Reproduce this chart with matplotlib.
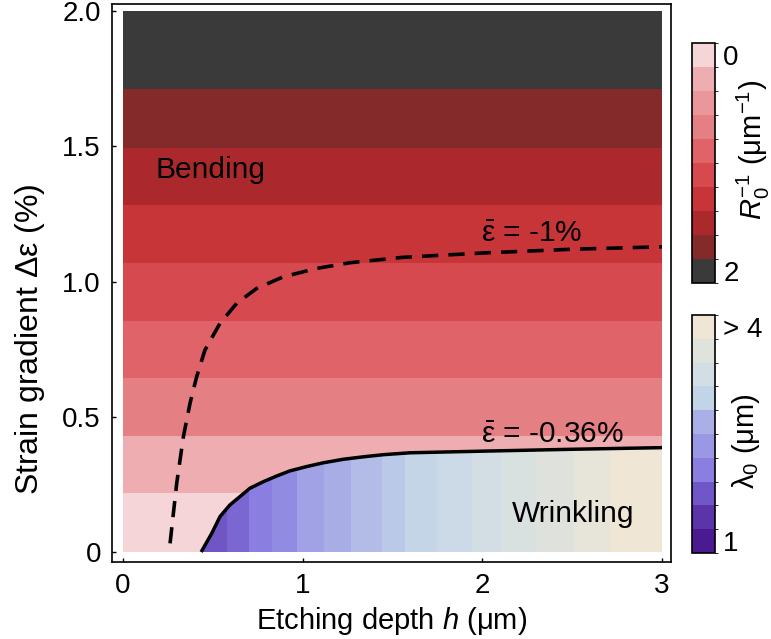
import matplotlib
matplotlib.use("Agg")
import matplotlib.pyplot as plt
import numpy as np
from matplotlib.colors import ListedColormap, BoundaryNorm, LinearSegmentedColormap, Normalize
from matplotlib.cm import ScalarMappable
from matplotlib.patches import Polygon

plt.rcParams["font.family"] = ["Liberation Sans", "DejaVu Sans"]
plt.rcParams["mathtext.fontset"] = "custom"
plt.rcParams["mathtext.rm"] = "Liberation Sans"
plt.rcParams["mathtext.it"] = "Liberation Sans:italic"

# bending region: horizontal bands of curvature R0^-1 (um^-1)
strain_edges = [0.0, 0.218, 0.429, 0.643, 0.854, 1.069, 1.283, 1.494, 1.712, 2.0]
curv_bands = [0.1, 0.3, 0.7, 0.9, 1.1, 1.3, 1.5, 1.7, 1.9]
curv_levels = [0.0, 0.2, 0.4, 0.6, 0.8, 1.0, 1.2, 1.4, 1.6, 1.8, 2.0]
curv_colors = ["#f5d5d8", "#eeaeb1", "#e9979b", "#e48084", "#df6368", "#d64a4f",
               "#c83538", "#ab292c", "#842a2b", "#3a3a3a"]

# wrinkling region: vertical bands of wavelength lambda0 (um)
h_edges = [0.435, 0.58, 0.70, 0.83, 0.97, 1.12, 1.27, 1.44, 1.57, 1.75, 1.94,
           2.11, 2.30, 2.51, 2.71, 3.0]
lam_bands = [1.66, 1.81, 2.0, 2.17, 2.47, 2.62, 2.77, 2.89, 3.04, 3.19, 3.34,
             3.49, 3.64, 3.82, 4.0]
lam_levels = [1.0, 1.3, 1.6, 1.9, 2.2, 2.5, 2.8, 3.1, 3.4, 3.7, 4.0]
lam_colors = ["#4a1a90", "#5c34aa", "#7056c6", "#8a7ee0", "#9a98e4", "#aab0e6",
              "#c2d4e8", "#d2dee4", "#e0e2dc", "#efe6d6"]

# boundary eps_bar = -0.36 % (solid)
wr_h = [0.435, 0.494, 0.540, 0.595, 0.651, 0.707, 0.781, 0.855, 0.929, 1.022,
        1.115, 1.226, 1.337, 1.449, 1.597, 2.0, 2.5, 3.0]
wr_eps = [0.0, 0.069, 0.131, 0.174, 0.205, 0.236, 0.260, 0.281, 0.300, 0.316,
          0.330, 0.343, 0.352, 0.360, 0.367, 0.373, 0.380, 0.386]

# boundary eps_bar = -1 % (dashed)
bd_h = [0.262, 0.299, 0.336, 0.373, 0.410, 0.456, 0.540, 0.633, 0.744, 0.892,
        1.078, 1.263, 1.558, 2.0, 2.5, 3.0]
bd_eps = [0.032, 0.254, 0.426, 0.550, 0.648, 0.747, 0.846, 0.920, 0.975, 1.018,
          1.049, 1.070, 1.090, 1.106, 1.120, 1.129]

FS = 20      # tick labels
FS_LAB = 21  # axis labels
FS_TXT = 21.5  # annotations

fig = plt.figure(figsize=(7.71, 6.39), dpi=100)
ax = fig.add_axes([0.1453, 0.1205, 0.7250, 0.8732])

cmap_r = ListedColormap(curv_colors)
norm_r = BoundaryNorm(curv_levels, cmap_r.N)
ax.pcolormesh([0, 3], strain_edges, np.array(curv_bands)[:, None], cmap=cmap_r, norm=norm_r)

cmap_l = ListedColormap(lam_colors)
norm_l = BoundaryNorm(lam_levels, cmap_l.N)
cmap_smooth = LinearSegmentedColormap.from_list("lam", lam_colors)
mesh = ax.pcolormesh(h_edges, [0, max(wr_eps) + 0.05], np.array(lam_bands)[None, :],
                     cmap=cmap_smooth, norm=Normalize(1.0, 4.0))
clip = Polygon(list(zip(wr_h, wr_eps)) + [(3.0, 0.0), (wr_h[0], 0.0)], closed=True,
               transform=ax.transData, facecolor="none", edgecolor="none")
ax.add_patch(clip)
mesh.set_clip_path(clip)

ax.plot(wr_h, wr_eps, color="black", lw=2.5, solid_capstyle="butt")
ax.plot(bd_h, bd_eps, color="black", lw=2.6, ls=(0, (4.5, 2.8)))

ax.text(0.18, 1.383, "Bending", fontsize=FS_TXT, va="baseline")
ax.text(2.165, 0.111, "Wrinkling", fontsize=FS_TXT, va="baseline")
ax.text(1.99, 1.146, r"$\bar{\mathrm{\varepsilon}}$ = -1%", fontsize=FS_TXT, va="baseline")
ax.text(1.99, 0.403, r"$\bar{\mathrm{\varepsilon}}$ = -0.36%", fontsize=FS_TXT, va="baseline")

ax.set_xlim(-0.061, 3.05)
ax.set_ylim(-0.037, 2.027)
ax.set_xticks([0, 1, 2, 3])
ax.set_yticks([0, 0.5, 1.0, 1.5, 2.0])
ax.set_yticklabels(["0", "0.5", "1.0", "1.5", "2.0"])
ax.tick_params(direction="in", length=3, width=1, labelsize=FS, pad=8)
for s in ax.spines.values():
    s.set_linewidth(1.2)
ax.set_xlabel(r"Etching depth $h$ (μm)", fontsize=FS_LAB, labelpad=4)
ax.set_ylabel(r"Strain gradient $\mathrm{\Delta\varepsilon}$ (%)", fontsize=23)
ax.yaxis.set_label_coords(-0.117, 0.40)

# colorbars
cax1 = fig.add_axes([0.8975, 0.557, 0.0298, 0.3756])
cb1 = fig.colorbar(ScalarMappable(norm=norm_r, cmap=cmap_r), cax=cax1)
cax1.invert_yaxis()
cb1.set_ticks([0.1, 1.9])
cb1.set_ticklabels(["0", "2"])
cb1.ax.tick_params(length=0, labelsize=FS, pad=6)
cb1.outline.set_linewidth(1.2)
fig.text(0.977, 0.765, r"$R_0^{-1}$ (μm$^{-1}$)", rotation=90, fontsize=FS_LAB,
         ha="center", va="center")

cax2 = fig.add_axes([0.8975, 0.1346, 0.0298, 0.3725])
cb2 = fig.colorbar(ScalarMappable(norm=norm_l, cmap=cmap_l), cax=cax2)
cb2.set_ticks([1.15, 3.85])
cb2.set_ticklabels(["1", "> 4"])
cb2.ax.tick_params(length=0, labelsize=FS, pad=6)
cb2.outline.set_linewidth(1.2)
fig.text(0.968, 0.31, r"$\mathrm{\lambda}_0$ (μm)", rotation=90, fontsize=FS_LAB,
         ha="center", va="center")

fig.savefig("out.png", dpi=100)
